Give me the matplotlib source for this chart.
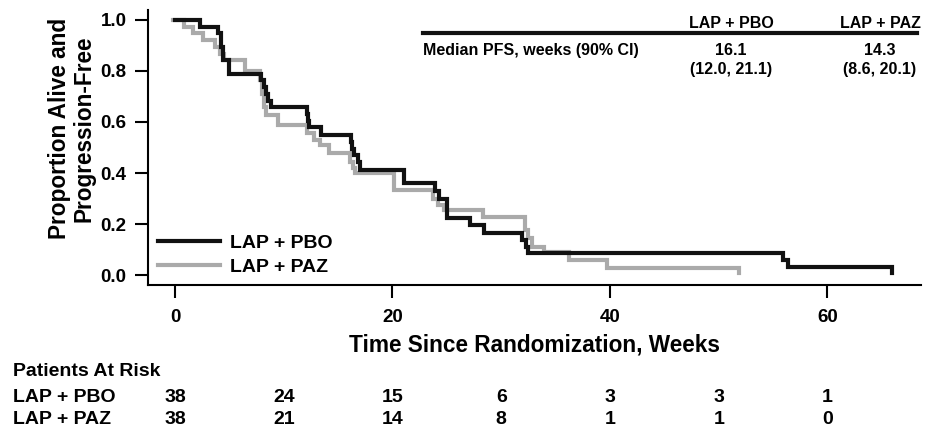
import matplotlib
matplotlib.use("Agg")
import matplotlib.pyplot as plt
from matplotlib.transforms import blended_transform_factory

plt.rcParams["font.family"] = ["Liberation Sans", "DejaVu Sans"]
plt.rcParams["font.weight"] = "bold"
plt.rcParams["axes.labelweight"] = "bold"

# Kaplan-Meier steps (weeks, proportion)
pbo_t = [0, 2.3, 4.0, 4.2, 4.4, 5.0, 7.9, 8.2, 8.4, 8.6, 8.8, 12.1, 12.2, 12.3,
         13.4, 16.2, 16.3, 16.5, 16.8, 17.0, 21.1, 23.9, 24.3, 25.0, 27.1,
         28.4, 31.9, 32.3, 32.5, 55.9, 56.4, 65.9]
pbo_s = [1.0, 0.974, 0.947, 0.895, 0.842, 0.789, 0.763, 0.737, 0.711, 0.684,
         0.658, 0.632, 0.605, 0.580, 0.549, 0.520, 0.495, 0.470, 0.444, 0.412,
         0.360, 0.330, 0.300, 0.222, 0.196, 0.163, 0.137, 0.111, 0.085, 0.059,
         0.033, 0.008]

paz_t = [-0.15, 0.8, 1.7, 2.6, 3.7, 4.1, 4.5, 6.4, 7.8, 8.0, 8.2, 8.4, 9.5,
         12.1, 12.8, 13.3, 14.2, 16.1, 16.4, 16.6, 20.1, 23.7, 24.2, 24.7,
         28.3, 32.2, 32.5, 32.8, 33.9, 36.2, 39.7, 51.9]
paz_s = [1.0, 0.974, 0.947, 0.921, 0.895, 0.868, 0.842, 0.800, 0.763, 0.711,
         0.658, 0.627, 0.588, 0.556, 0.530, 0.510, 0.477, 0.444, 0.420, 0.399,
         0.333, 0.300, 0.275, 0.255, 0.229, 0.176, 0.144, 0.111, 0.090, 0.059,
         0.027, 0.008]

arms = ["LAP + PBO", "LAP + PAZ"]
arm_colors = ["#111111", "#aaaaaa"]

risk_weeks = [0, 10, 20, 30, 40, 50, 60]
risk_pbo = [38, 24, 15, 6, 3, 3, 1]
risk_paz = [38, 21, 14, 8, 1, 1, 0]

median_label = "Median PFS, weeks (90% CI)"
median_vals = ["16.1\n(12.0, 21.1)", "14.3\n(8.6, 20.1)"]

W, H = 927, 429
fig = plt.figure(figsize=(W / 100, H / 100), dpi=100)
ax = fig.add_axes([148 / W, 1 - 285 / H, (921 - 148) / W, 275 / H])

ax.step(paz_t, paz_s, where="post", color=arm_colors[1], lw=3.0,
        label=arms[1], solid_joinstyle="miter", zorder=2)
ax.step(pbo_t, pbo_s, where="post", color=arm_colors[0], lw=3.0,
        label=arms[0], solid_joinstyle="miter", zorder=3)

ax.set_xlim(-2.48, 68.6)
ax.set_ylim(-0.039, 1.039)
ax.set_xticks([0, 20, 40, 60])
ax.set_yticks([0, 0.2, 0.4, 0.6, 0.8, 1.0])
ax.set_yticklabels(["0.0", "0.2", "0.4", "0.6", "0.8", "1.0"])
ax.tick_params(direction="out", length=9.5, width=1.5, labelsize=13.5)
ax.tick_params(axis="x", pad=8)
ax.tick_params(axis="y", pad=6)
for side in ["top", "right"]:
    ax.spines[side].set_visible(False)
for side in ["left", "bottom"]:
    ax.spines[side].set_linewidth(1.5)

ax.set_xlabel("Time Since Randomization, Weeks", fontsize=16.3, labelpad=5)
ax.set_ylabel("Proportion Alive and\nProgression-Free", fontsize=16.3,
              linespacing=1.1)
ax.yaxis.set_label_coords(-0.068, 0.57)

handles, labels = ax.get_legend_handles_labels()
ax.legend(handles[::-1], labels[::-1], loc="upper left",
          bbox_to_anchor=(158 / W, 1 - 234 / H),
          bbox_transform=fig.transFigure, frameon=False, fontsize=14,
          handlelength=3.2, handletextpad=0.5, labelspacing=0.35,
          borderpad=0, borderaxespad=0)

# median table in the upper right
fig.add_artist(plt.Line2D([423 / W, 917 / W], [1 - 33 / H, 1 - 33 / H],
                          transform=fig.transFigure, color="#111111", lw=3))
fig.text(731 / W, 1 - 23 / H, arms[0], ha="center", va="center", fontsize=11.5)
fig.text(880 / W, 1 - 23 / H, arms[1], ha="center", va="center", fontsize=11.5)
fig.text(423 / W, 1 - 50 / H, median_label, ha="left", va="center", fontsize=11.5)
for xp, txt in zip([731, 880], median_vals):
    fig.text(xp / W, 1 - 60 / H, txt, ha="center", va="center",
             fontsize=11.5, linespacing=1.3)

# patients at risk
tr = blended_transform_factory(ax.transData, fig.transFigure)
fig.text(13 / W, 1 - 372 / H, "Patients At Risk", ha="left", va="center", fontsize=14)
for row_y, name, counts in [(397, arms[0], risk_pbo), (420, arms[1], risk_paz)]:
    fig.text(13 / W, 1 - row_y / H, name, ha="left", va="center", fontsize=14)
    for wk, n in zip(risk_weeks, counts):
        ax.text(wk, 1 - row_y / H, str(n), transform=tr, ha="center",
                va="center", fontsize=14)

fig.savefig("out.png", dpi=100)
